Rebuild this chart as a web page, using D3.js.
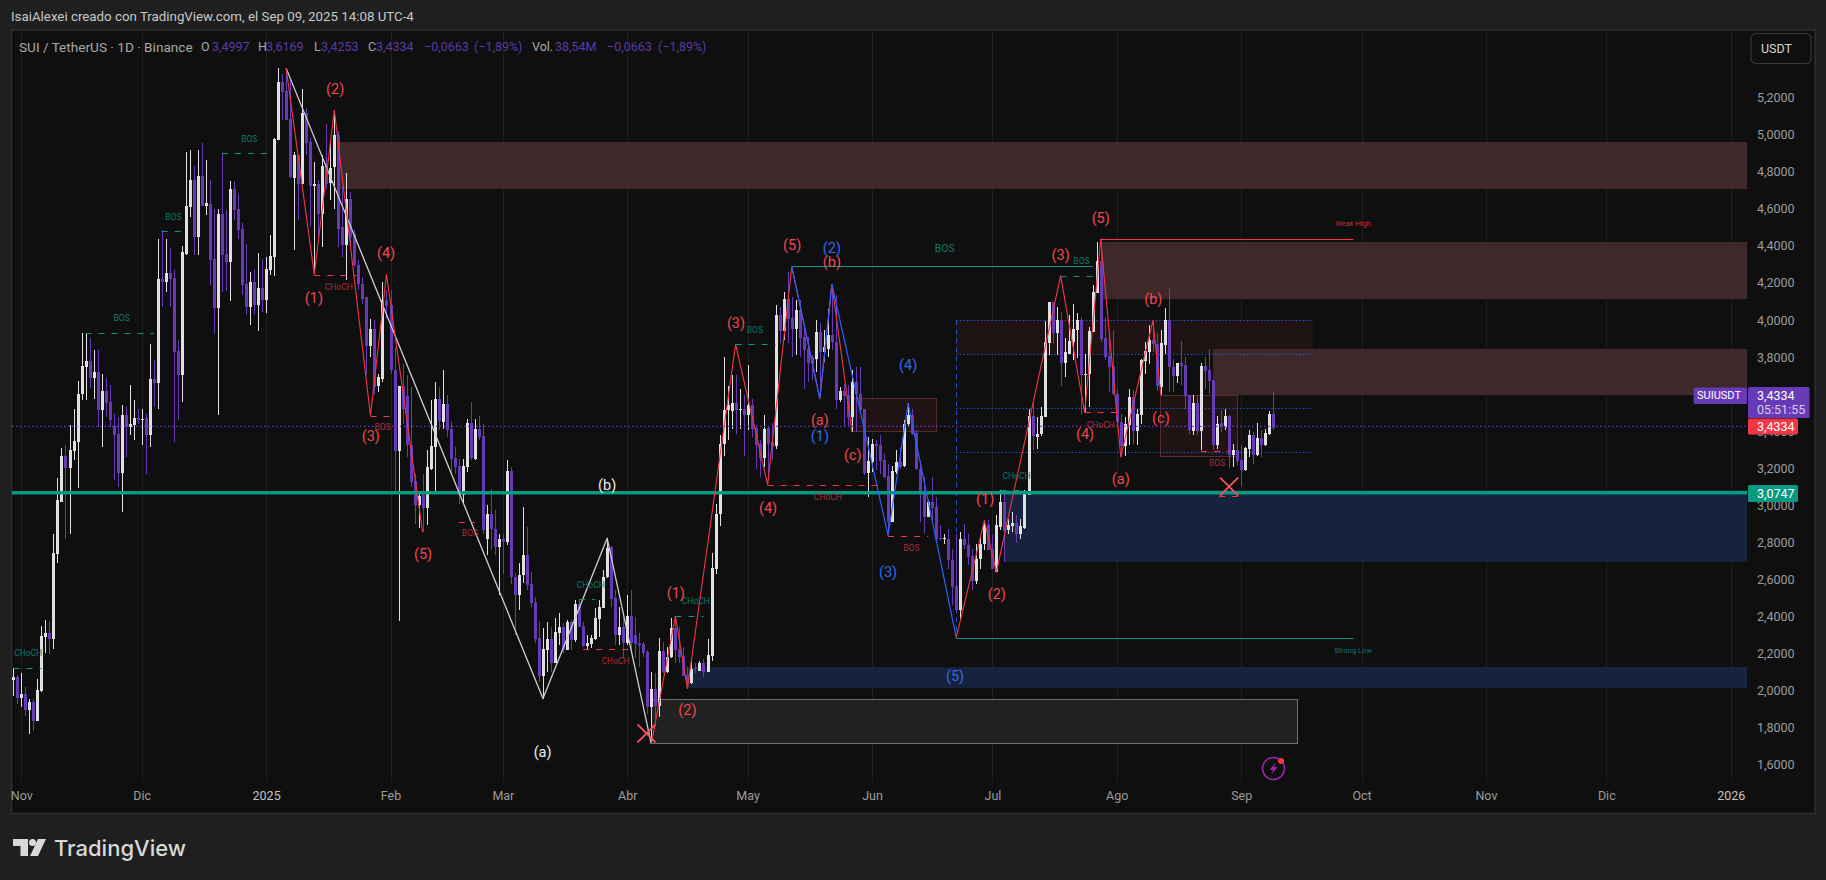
<!DOCTYPE html>
<html>
<head>
<meta charset="utf-8">
<title>SUI / TetherUS</title>
<script src="https://cdn.jsdelivr.net/npm/d3@7"></script>
<style>
	html, body { margin: 0; padding: 0; background: #1f1f1f; overflow: hidden; }
	svg { display: block; font-family: Roboto, "Open Sans", sans-serif; }
</style>
</head>
<body>
<svg id="chart" width="1826" height="880"></svg>
<script>
// daily candles, bar 0 = 30 Oct 2024
var opens = [
	2.056,2.072,1.958,1.980,1.894,1.937,1.834,1.996,2.288,2.309,
	2.277,2.736,3.019,3.265,3.200,3.291,3.340,3.597,3.743,3.776,
	3.684,3.716,3.511,3.615,3.556,3.425,3.385,3.176,3.484,3.421,
	3.430,3.471,3.462,3.470,3.376,3.682,3.659,4.220,4.204,4.253,
	4.224,3.830,3.700,4.357,4.609,4.753,4.447,4.775,4.614,4.627,
	4.328,4.064,4.569,4.353,4.312,4.704,4.595,4.488,4.191,4.069,
	4.204,4.078,4.172,4.105,4.267,4.339,4.969,5.284,5.234,5.081,
	4.767,4.888,4.735,5.113,4.960,4.722,4.735,4.569,4.829,4.739,
	4.825,4.996,4.501,4.402,4.649,4.465,4.294,4.191,4.123,3.857,
	3.952,3.641,3.682,4.109,4.078,3.727,3.291,3.641,3.587,3.322,
	3.128,3.000,3.057,2.984,3.196,3.313,3.570,3.449,3.548,3.410,
	3.257,3.210,3.053,3.206,3.444,3.251,3.413,3.372,2.819,2.951,
	2.873,2.774,2.819,2.801,3.183,2.611,2.515,2.623,2.731,2.573,
	2.476,2.281,2.080,2.218,2.278,2.150,2.312,2.341,2.218,2.371,
	2.272,2.467,2.348,2.238,2.251,2.278,2.386,2.447,2.611,2.773,
	2.497,2.299,2.341,2.254,2.400,2.299,2.254,2.249,2.207,1.912,
	2.011,1.918,2.213,2.101,2.179,2.335,2.224,2.188,2.083,2.038,
	2.119,2.107,2.146,2.101,2.188,2.656,2.951,3.329,3.512,3.507,
	3.552,3.518,3.521,3.489,3.539,3.417,3.332,3.257,3.417,3.341,
	3.318,4.025,3.941,4.110,4.009,3.952,4.052,3.908,3.845,3.797,
	3.788,3.932,3.827,3.845,3.917,3.881,3.566,3.615,3.593,3.476,
	3.662,3.599,3.516,3.174,3.233,3.332,3.323,3.246,3.156,2.909,
	3.179,3.233,3.210,3.437,3.485,3.390,3.197,3.062,2.936,3.017,
	2.990,2.823,2.817,2.819,2.706,2.562,2.432,2.816,2.787,2.724,
	2.589,2.711,2.792,2.891,2.765,2.639,2.882,3.017,2.864,2.886,
	2.904,2.842,2.878,3.053,3.480,3.368,3.386,3.476,3.872,4.097,
	3.926,3.998,3.768,3.818,3.881,3.944,3.998,3.706,3.710,3.935,
	4.142,4.318,3.899,3.804,3.750,3.602,3.449,3.318,3.431,3.584,
	3.399,3.485,3.777,3.827,3.890,3.868,3.638,3.863,3.998,3.746,
	3.696,3.768,3.755,3.593,3.399,3.552,3.399,3.750,3.728,3.674,
	3.327,3.444,3.422,3.480,3.269,3.296,3.242,3.188,3.305,3.377,
	3.269,3.364,3.323,3.382,3.490];
var highs = [
	2.124,2.086,2.097,2.018,1.953,1.953,2.061,2.347,2.378,2.374,
	2.844,3.146,3.308,3.325,3.433,3.520,3.669,3.929,3.929,3.902,
	3.839,3.835,3.709,3.687,3.646,3.493,3.475,3.538,3.529,3.646,
	3.569,3.520,3.520,3.493,3.867,3.781,4.434,4.483,4.438,4.389,
	4.267,3.889,4.397,4.904,4.915,4.832,4.915,4.951,4.861,4.753,
	4.600,4.600,4.897,4.591,4.749,4.749,4.677,4.524,4.407,4.258,
	4.276,4.362,4.330,4.339,4.456,4.983,5.356,5.324,5.356,5.293,
	4.906,4.888,5.243,5.140,4.978,4.852,4.753,4.888,5.054,4.960,
	5.113,5.019,4.717,4.789,4.690,4.483,4.321,4.231,4.123,4.006,
	3.997,3.709,4.204,4.159,4.159,3.853,3.641,3.763,3.700,3.637,
	3.169,3.079,3.169,3.295,3.569,3.664,3.637,3.728,3.593,3.449,
	3.314,3.251,3.251,3.467,3.557,3.467,3.482,3.440,3.000,3.089,
	2.972,2.846,2.846,3.242,3.206,2.632,2.686,2.992,2.884,2.641,
	2.506,2.371,2.335,2.371,2.344,2.389,2.416,2.362,2.380,2.380,
	2.488,2.492,2.371,2.299,2.299,2.443,2.488,2.650,2.821,2.780,
	2.542,2.452,2.398,2.515,2.542,2.398,2.308,2.263,2.218,2.101,
	2.092,2.281,2.263,2.236,2.389,2.402,2.344,2.236,2.128,2.161,
	2.146,2.161,2.168,2.276,2.744,3.008,3.377,3.800,3.642,3.701,
	3.701,3.626,3.593,3.755,3.575,3.431,3.350,3.485,3.422,3.444,
	4.079,4.070,4.151,4.259,4.124,4.106,4.106,3.953,3.908,3.809,
	3.998,3.980,3.944,4.058,4.187,4.133,3.638,3.656,3.647,3.728,
	3.746,3.743,3.521,3.368,3.359,3.350,3.381,3.278,3.224,3.210,
	3.296,3.314,3.458,3.552,3.516,3.404,3.242,3.152,3.026,3.152,
	3.044,2.891,2.846,2.873,2.765,2.846,2.855,2.900,2.846,2.765,
	2.792,2.828,2.918,2.918,2.837,2.945,3.080,3.080,2.927,2.963,
	2.945,2.927,3.080,3.521,3.557,3.476,3.530,3.995,4.097,4.097,
	4.070,4.043,3.899,4.025,4.084,4.034,4.016,3.818,3.962,4.187,
	4.421,4.439,4.016,3.944,3.944,3.624,3.494,3.476,3.624,3.620,
	3.516,3.788,3.881,3.971,3.995,3.926,3.944,4.061,4.169,3.791,
	3.768,3.885,3.800,3.593,3.593,3.593,3.769,3.800,3.841,3.674,
	3.480,3.512,3.521,3.485,3.332,3.341,3.323,3.314,3.404,3.395,
	3.444,3.404,3.413,3.508,3.608];
var lows = [
	1.969,1.926,1.912,1.863,1.766,1.780,1.834,1.993,2.203,2.198,
	2.223,2.689,3.019,2.817,2.844,3.241,3.092,3.565,3.565,3.633,
	3.574,3.421,3.313,3.475,3.421,3.133,3.097,2.962,3.259,3.376,
	3.349,3.439,3.322,3.169,3.313,3.529,3.520,4.069,4.150,4.069,
	3.340,3.457,3.556,4.348,4.555,4.348,4.348,4.614,4.564,4.186,
	3.925,3.484,4.150,4.155,4.101,4.537,4.433,4.132,4.024,3.970,
	4.033,3.939,4.042,4.037,4.240,4.235,4.969,5.077,5.077,4.767,
	4.375,4.537,4.735,4.888,4.501,4.249,4.429,4.393,4.708,4.645,
	4.600,4.393,4.339,4.213,4.375,4.285,4.159,4.087,3.700,3.799,
	3.592,3.610,3.664,4.006,3.709,3.065,2.377,3.439,3.259,3.097,
	2.899,2.876,2.854,2.894,3.192,3.070,3.403,3.413,3.368,3.170,
	3.170,3.008,3.008,3.179,3.242,3.242,3.350,2.846,2.729,2.756,
	2.729,2.513,2.630,2.783,2.576,2.299,2.434,2.578,2.542,2.452,
	2.254,2.047,1.957,2.101,2.101,2.146,2.245,2.200,2.218,2.218,
	2.263,2.341,2.236,2.222,2.227,2.272,2.290,2.443,2.605,2.452,
	2.245,2.245,2.173,2.245,2.200,2.173,2.128,2.182,1.876,1.711,
	1.831,1.858,2.092,2.092,2.173,2.146,2.146,2.078,2.011,2.035,
	2.092,2.105,2.074,2.101,2.161,2.630,2.886,3.264,3.350,3.413,
	3.383,3.410,3.264,3.404,3.368,3.197,3.152,3.206,3.134,3.242,
	3.305,3.872,3.890,3.872,3.800,3.809,3.800,3.629,3.665,3.674,
	3.719,3.584,3.773,3.800,3.836,3.521,3.557,3.422,3.422,3.395,
	3.395,3.494,3.161,3.044,3.179,3.188,3.170,3.149,2.837,2.909,
	3.170,3.197,3.206,3.422,3.377,3.188,2.909,2.846,2.936,2.918,
	2.801,2.814,2.792,2.657,2.459,2.428,2.382,2.765,2.675,2.540,
	2.576,2.657,2.760,2.760,2.657,2.639,2.864,2.693,2.846,2.855,
	2.796,2.819,2.873,3.053,3.296,3.305,3.372,3.476,3.809,3.872,
	3.809,3.644,3.692,3.818,3.782,3.796,3.494,3.503,3.530,3.935,
	4.142,3.881,3.782,3.611,3.593,3.440,3.260,3.264,3.323,3.332,
	3.323,3.440,3.710,3.764,3.827,3.617,3.593,3.818,3.611,3.611,
	3.660,3.647,3.516,3.386,3.377,3.377,3.296,3.629,3.597,3.300,
	3.305,3.395,3.404,3.202,3.206,3.215,3.102,3.184,3.260,3.224,
	3.264,3.260,3.318,3.377,3.404];
var closes = [
	2.072,1.960,1.980,1.894,1.937,1.834,2.002,2.293,2.309,2.277,
	2.740,3.028,3.265,3.200,3.298,3.344,3.601,3.749,3.776,3.684,
	3.716,3.511,3.615,3.551,3.462,3.381,3.176,3.484,3.421,3.439,
	3.471,3.462,3.466,3.376,3.682,3.659,4.220,4.204,4.253,4.220,
	3.826,3.700,4.364,4.613,4.753,4.447,4.775,4.614,4.629,4.325,
	4.064,4.569,4.348,4.312,4.704,4.591,4.483,4.186,4.069,4.204,
	4.078,4.172,4.105,4.274,4.343,4.976,5.284,5.230,5.077,4.771,
	4.888,4.735,5.113,4.955,4.722,4.735,4.569,4.829,4.735,4.816,
	4.996,4.492,4.402,4.649,4.447,4.294,4.191,4.114,3.858,3.952,
	3.637,3.691,4.109,4.073,3.727,3.291,3.641,3.520,3.322,3.124,
	3.000,3.052,2.984,3.205,3.317,3.574,3.453,3.548,3.404,3.251,
	3.206,3.053,3.210,3.444,3.255,3.413,3.368,2.864,2.951,2.873,
	2.774,2.819,2.801,3.183,2.612,2.515,2.623,2.731,2.569,2.470,
	2.278,2.080,2.224,2.278,2.146,2.314,2.341,2.218,2.371,2.272,
	2.467,2.344,2.242,2.256,2.285,2.389,2.450,2.611,2.767,2.492,
	2.299,2.341,2.254,2.400,2.254,2.251,2.243,2.204,1.912,2.011,
	1.918,2.213,2.101,2.182,2.335,2.218,2.182,2.080,2.038,2.114,
	2.114,2.146,2.101,2.191,2.659,2.954,3.332,3.512,3.539,3.552,
	3.512,3.521,3.489,3.539,3.413,3.323,3.257,3.413,3.329,3.314,
	4.025,3.941,4.110,4.004,3.952,4.052,3.903,3.836,3.768,3.764,
	3.932,3.827,3.851,3.917,3.878,3.566,3.615,3.588,3.476,3.662,
	3.599,3.512,3.174,3.237,3.332,3.318,3.239,3.152,2.909,3.183,
	3.233,3.206,3.437,3.485,3.386,3.197,3.062,2.936,3.017,2.986,
	2.819,2.816,2.823,2.702,2.558,2.432,2.816,2.783,2.720,2.589,
	2.711,2.792,2.891,2.760,2.657,2.891,3.017,2.860,2.891,2.904,
	2.846,2.886,3.062,3.480,3.372,3.386,3.480,3.878,4.097,3.926,
	3.998,3.768,3.827,3.887,3.948,3.998,3.701,3.710,3.939,4.148,
	4.318,3.895,3.800,3.746,3.602,3.449,3.318,3.437,3.584,3.399,
	3.490,3.782,3.831,3.890,3.867,3.642,3.872,3.998,3.746,3.696,
	3.768,3.752,3.589,3.408,3.552,3.399,3.750,3.723,3.669,3.323,
	3.440,3.422,3.480,3.269,3.296,3.238,3.188,3.310,3.377,3.269,
	3.364,3.323,3.390,3.490,3.418];

// axes
var priceTicks = [1.6,1.8,2.0,2.2,2.4,2.6,2.8,3.0,3.2,3.4,3.6,3.8,4.0,4.2,4.4,4.6,4.8,5.0,5.2];
var monthBars = [2,32,63,94,122,153,183,214,244,275,306,336,367,397,428];
var monthLabels = ["Nov","Dic","2025","Feb","Mar","Abr","May","Jun","Jul","Ago","Sep","Oct","Nov","Dic","2026"];

// price levels
var lastClose = 3.4334;
var supportLevel = 3.0747;

// zigzag waves as [bar, price]
var waveWhite = [[68,5.356],[132,1.957],[148,2.821],[159,1.711]];
var waveRedA = [[68,5.356],[75,4.245],[80,5.131],[89,3.484],[93,4.244],[102,2.854]];
var waveRedB = [[159,1.711],[165,2.402],[168,2.011],[180,3.867],[188,3.111],[194,4.286]];
var waveRedC = [[194,4.286],[201,3.575],[204,4.191],[209,3.395]];
var waveBlue = [[194,4.286],[201,3.575],[204,4.191],[218,2.837],[223,3.548],[235,2.285]];
var waveRedD = [[235,2.285],[242,2.918],[245,2.639],[261,4.237],[267,3.500],[271,4.434],[276,3.260],[284,3.995],[286,3.593]];

// wave counts as [text, bar, price]
var countsRed = [
	["(2)",80.2,5.243],["(1)",74.9,4.116],["(4)",92.9,4.355],["(3)",89.1,3.369],["(5)",102.1,2.735],
	["(5)",194.1,4.402],["(b)",204,4.308],["(3)",180.1,3.981],["(a)",201,3.456],["(c)",209.2,3.267],["(4)",188.1,2.983],
	["(1)",165.1,2.525],["(2)",168,1.890],
	["(5)",271,4.547],["(3)",261,4.349],["(b)",284.1,4.107],["(c)",286,3.465],["(4)",267.1,3.382],["(a)",276,3.136],
	["(1)",242.2,3.032],["(2)",245.1,2.516]];
var countsBlue = [["(2)",204,4.387],["(1)",201,3.369],["(3)",218,2.636],["(4)",223,3.752],["(5)",234.7,2.075]];
var countsWhite = [["(b)",148,3.105],["(a)",131.9,1.667]];

// market structure as [startBar, endBar, price, label, labelBar, labelPrice]
var structureTeal = [
	[0,7,2.124,"CHoCH",3.7,2.203],[18,35,3.929,"BOS",27,4.010],[37,42,4.479,"BOS",39.9,4.554],
	[52,65,4.897,"BOS",58.8,4.975],[141,145,2.492,"CHoCH",143.9,2.569],[165,172,2.404,"CHoCH",170.1,2.483],
	[180,190,3.867,"BOS",184.8,3.945],[261,269,4.237,"BOS",266.2,4.317],[246,252,3.080,"CHoCH",250,3.157]];
var structureRed = [
	[75,85.5,4.243,"CHoCH",81.1,4.177],[89,94,3.482,"BOS",92,3.423],[111,115,2.911,"BOS",113.8,2.850],
	[142,155,2.222,"CHoCH",150.1,2.159],[188,217,3.111,"CHoCH",203,3.044],[218,228,2.835,"BOS",223.8,2.769],
	[267,275,3.500,"CHoCH",271,3.432],[296,303,3.294,"BOS",300,3.227],[300.5,306,3.052,"",0,0]];
var strongLines = [
	[194,269,4.288,"BOS",232.1,4.387,"#089981",10.5],
	[271,334,4.434,"Weak High",333.9,4.519,"#f23645",7.5],
	[235,334,2.285,"Strong Low",333.9,2.217,"#089981",7.5]];

// zones as [startBar, endBar, topPrice, bottomPrice]
var zonesSupply = [[81,432,4.960,4.705],[271,432,4.419,4.111],[299,432,3.842,3.594]];
var zonesDemand = [[247,432,3.080,2.693],[168,432,2.126,2.015]];
var zonesFaint = [[235,324,3.997,3.814]];
var boxesRed = [[209,230,3.577,3.397],[286,305,3.594,3.260]];
var boxesGray = [[159,320,1.952,1.715]];

// fib lines from the low of June
var fibBars = [235,324];
var fibLevels = [3.997,3.814,3.522,3.285];
var fibFoot = 2.285;

var crossMarks = [[157.8,1.769],[303,3.100]];

var legendParts = [
	["SUI / TetherUS · 1D · Binance",19,"g",13.6],["O",201,"g"],["3,4997",212,"p"],["H",258,"g"],["3,6169",266,"p"],
	["L",314,"g"],["3,4253",321,"p"],["C",368,"g"],["3,4334",376,"p"],["−0,0663",424,"p"],["(−1,89%)",474,"p"],
	["Vol.",532,"g"],["38,54M",555,"p"],["−0,0663",607,"p"],["(−1,89%)",658,"p"]];

var colors = {
	bg: "#1f1f1f", pane: "#0f0f0f", frame: "#2e2e2e", grid: "#1f1f1f",
	up: "#e0e0e0", down: "#673ab7", teal: "#089981", red: "#f23645", blue: "#2962ff",
	wave: "#cfcfcf", supply: "#3f2829", demand: "#17233d", faint: "#1f1413", axis: "#9c9c9c"
};

var svg = d3.select("#chart");

var x = d3.scaleLinear().domain([0,428]).range([13.33,1730.7]);
var y = d3.scaleLinear().domain([5.2,1.6]).range([97.3,764.7]);

function snap(v) { return Math.round(v) + 0.5; }

svg.append("rect").attr("width",1826).attr("height",880).attr("fill",colors.bg);
svg.append("rect").attr("x",11.5).attr("y",30).attr("width",1803.5).attr("height",783.5)
	.attr("fill",colors.pane).attr("stroke",colors.frame).attr("stroke-width",1.5);

// month grid
svg.append("g").selectAll("line").data(monthBars).enter().append("line")
	.attr("x1",function(d){ return snap(x(d)); }).attr("x2",function(d){ return snap(x(d)); })
	.attr("y1",31).attr("y2",782)
	.attr("stroke",colors.grid);

// zones
function drawZones(rows, fill, stroke) {
	svg.append("g").selectAll("rect").data(rows).enter().append("rect")
		.attr("x",function(d){ return x(d[0]); })
		.attr("width",function(d){ return x(d[1]) - x(d[0]); })
		.attr("y",function(d){ return y(d[2]); })
		.attr("height",function(d){ return y(d[3]) - y(d[2]); })
		.attr("fill",fill)
		.attr("stroke",stroke || "none")
		.attr("shape-rendering","crispEdges");
}
drawZones(zonesFaint, colors.faint);
drawZones(zonesSupply, colors.supply);
drawZones(zonesDemand, colors.demand);
drawZones(boxesRed, colors.faint, "#5a2a2c");
drawZones(boxesGray, "#212121", "#6f6f6f");

// fib lines
svg.append("g").selectAll("line").data(fibLevels).enter().append("line")
	.attr("x1",x(fibBars[0])).attr("x2",x(fibBars[1]))
	.attr("y1",function(d){ return snap(y(d)); }).attr("y2",function(d){ return snap(y(d)); })
	.attr("stroke",colors.blue).attr("stroke-opacity",0.8).attr("stroke-dasharray","1.5,2");
svg.append("line")
	.attr("x1",snap(x(fibBars[0]))).attr("x2",snap(x(fibBars[0])))
	.attr("y1",y(fibLevels[0])).attr("y2",y(fibFoot))
	.attr("stroke",colors.blue).attr("stroke-opacity",0.8).attr("stroke-dasharray","5,4");

// candles
var bars = d3.range(closes.length);
var candle = svg.append("g").attr("shape-rendering","crispEdges");
candle.selectAll(".wick").data(bars).enter().append("line")
	.attr("class","wick")
	.attr("x1",function(i){ return snap(x(i)); }).attr("x2",function(i){ return snap(x(i)); })
	.attr("y1",function(i){ return y(highs[i]); }).attr("y2",function(i){ return y(lows[i]); })
	.attr("stroke",function(i){ return closes[i] >= opens[i] ? colors.up : colors.down; });
candle.selectAll(".body").data(bars).enter().append("rect")
	.attr("class","body")
	.attr("x",function(i){ return snap(x(i)) - 1.5; })
	.attr("width",3)
	.attr("y",function(i){ return y(Math.max(opens[i],closes[i])); })
	.attr("height",function(i){ return Math.max(1, Math.abs(y(opens[i]) - y(closes[i]))); })
	.attr("fill",function(i){ return closes[i] >= opens[i] ? colors.up : colors.down; });

// current price, dotted, and the support line; both sit 1.5px under the axis text
var levelNudge = 1.5;
svg.append("line").attr("x1",12).attr("x2",1747)
	.attr("y1",y(lastClose)+levelNudge).attr("y2",y(lastClose)+levelNudge)
	.attr("stroke",colors.down).attr("stroke-width",1.2).attr("stroke-dasharray","1.5,2.5");
svg.append("line").attr("x1",12).attr("x2",1747)
	.attr("y1",y(supportLevel)+levelNudge).attr("y2",y(supportLevel)+levelNudge)
	.attr("stroke",colors.teal).attr("stroke-width",3.4);

// zigzags
var zig = d3.line().x(function(d){ return x(d[0]); }).y(function(d){ return y(d[1]); });
function drawWave(points, stroke, w) {
	svg.append("path").attr("d",zig(points)).attr("fill","none")
		.attr("stroke",stroke).attr("stroke-width",w).attr("stroke-linejoin","round");
}
drawWave(waveWhite, colors.wave, 1.3);
drawWave(waveRedA, colors.red, 1.1);
drawWave(waveRedB, colors.red, 1.1);
drawWave(waveRedC, colors.red, 1.1);
drawWave(waveBlue, colors.blue, 1.2);
drawWave(waveRedD, colors.red, 1.1);

// structure
function drawStructure(rows, stroke, labelFill) {
	var g = svg.append("g");
	g.selectAll("line").data(rows).enter().append("line")
		.attr("x1",function(d){ return x(d[0]); }).attr("x2",function(d){ return x(d[1]); })
		.attr("y1",function(d){ return snap(y(d[2])); }).attr("y2",function(d){ return snap(y(d[2])); })
		.attr("stroke",stroke).attr("stroke-dasharray","6,7");
	g.selectAll("text").data(rows).enter().append("text")
		.text(function(d){ return d[3]; })
		.attr("x",function(d){ return x(d[4]); }).attr("y",function(d){ return y(d[5]); })
		.attr("text-anchor","middle").attr("dominant-baseline","central")
		.attr("font-size",8.5).attr("fill",labelFill);
}
drawStructure(structureTeal, colors.teal, "#0b7a68");
drawStructure(structureRed, colors.red, "#a92c3a");

var strong = svg.append("g");
strong.selectAll("line").data(strongLines).enter().append("line")
	.attr("x1",function(d){ return x(d[0]); }).attr("x2",function(d){ return x(d[1]); })
	.attr("y1",function(d){ return snap(y(d[2])); }).attr("y2",function(d){ return snap(y(d[2])); })
	.attr("stroke",function(d){ return d[6]; });
strong.selectAll("text").data(strongLines).enter().append("text")
	.text(function(d){ return d[3]; })
	.attr("x",function(d){ return x(d[4]); }).attr("y",function(d){ return y(d[5]); })
	.attr("text-anchor","middle").attr("dominant-baseline","central")
	.attr("font-size",function(d){ return d[7]; })
	.attr("fill",function(d){ return d[6]; }).attr("fill-opacity",0.8);

// wave counts
function drawCounts(rows, fill) {
	svg.append("g").selectAll("text").data(rows).enter().append("text")
		.text(function(d){ return d[0]; })
		.attr("x",function(d){ return x(d[1]); }).attr("y",function(d){ return y(d[2]); })
		.attr("text-anchor","middle").attr("dominant-baseline","central")
		.attr("font-size",14.5).attr("fill",fill);
}
drawCounts(countsRed, "#f0484f");
drawCounts(countsBlue, "#2f6bf0");
drawCounts(countsWhite, "#eeeeee");

// crosses
var crossSize = 9;
svg.append("g").selectAll("path").data(crossMarks).enter().append("path")
	.attr("d",function(d){
		var cx = x(d[0]), cy = y(d[1]);
		return "M"+(cx-crossSize)+","+(cy-crossSize)+"L"+(cx+crossSize)+","+(cy+crossSize)+
			"M"+(cx-crossSize)+","+(cy+crossSize)+"L"+(cx+crossSize)+","+(cy-crossSize);
	})
	.attr("stroke","#f7525f").attr("stroke-width",1.8).attr("fill","none");

// alert icon
var icon = svg.append("g").attr("transform","translate(1273.5,768.5)");
icon.append("circle").attr("r",11).attr("fill","none").attr("stroke","#9c27b0").attr("stroke-width",1.5);
icon.append("path").attr("d","M2,-6L-4,1.5L-0.5,1.5L-2,6L4,-1.5L0.5,-1.5Z").attr("fill","#9c27b0");
icon.append("circle").attr("cx",7.5).attr("cy",-7.5).attr("r",3).attr("fill","#f23645");

// price axis
var priceFormat = function(d){ return d3.format(".4f")(d).replace(".",","); };
var yAxis = svg.append("g").attr("transform","translate(1757,0)")
	.call(d3.axisRight(y).tickValues(priceTicks).tickSize(0).tickPadding(0).tickFormat(priceFormat));
yAxis.select(".domain").remove();
yAxis.selectAll("text").attr("font-family","Roboto").attr("font-size",12.5).attr("fill",colors.axis).attr("dy","0.34em");

// time axis
var xAxis = svg.append("g").attr("transform","translate(0,791)")
	.call(d3.axisBottom(x).tickValues(monthBars).tickSize(0).tickPadding(0)
		.tickFormat(function(d,i){ return monthLabels[i]; }));
xAxis.select(".domain").remove();
xAxis.selectAll("text").attr("font-family","Roboto").attr("font-size",12.5).attr("dy","0.71em")
	.attr("fill",function(d,i){ return /^20/.test(monthLabels[i]) ? "#c4c4c4" : colors.axis; });

// price tags
function tag(px, py, w, h, fill, lines, size) {
	svg.append("rect").attr("x",px).attr("y",py).attr("width",w).attr("height",h).attr("rx",1.5).attr("fill",fill);
	lines.forEach(function(l){
		svg.append("text").text(l[0]).attr("x",px+l[1]).attr("y",py+l[2])
			.attr("dominant-baseline","central").attr("font-size",size || 12.5).attr("fill",l[3] || "#ffffff");
	});
}
tag(1693.5,387.5,53.5,16.5,colors.down,[["SUIUSDT",3.5,8]],11);
tag(1748,387,61.5,31,colors.down,[["3,4334",9,8],["05:51:55",9,22.5,"#d8cdee"]]);
tag(1748,418.5,50,16,colors.red,[["3,4334",9,8]]);
tag(1748,485,50,17,colors.teal,[["3,0747",9,8.5]]);

svg.append("rect").attr("x",1751).attr("y",33.5).attr("width",60).attr("height",30).attr("rx",5)
	.attr("fill",colors.pane).attr("stroke","#363636").attr("stroke-width",1.2);
svg.append("text").text("USDT").attr("x",1761).attr("y",48.5).attr("dominant-baseline","central")
	.attr("font-size",12.5).attr("fill","#d6d6d6");

// legend and header
svg.append("g").selectAll("text").data(legendParts).enter().append("text")
	.text(function(d){ return d[0]; })
	.attr("x",function(d){ return d[1]; }).attr("y",46.5)
	.attr("dominant-baseline","central").attr("font-size",function(d){ return d[3] || 12.5; })
	.attr("fill",function(d){ return d[2] === "g" ? "#a8a8a8" : "#5b3aa8"; });

svg.append("text").text("IsaiAlexei creado con TradingView.com, el Sep 09, 2025 14:08 UTC-4")
	.attr("x",11).attr("y",16.5).attr("dominant-baseline","central")
	.attr("font-size",13.3).attr("fill","#c8c8c8");

// logo
var logo = svg.append("g").attr("transform","translate(13,839)").attr("fill","#d9d9d9");
logo.append("path").attr("d","M0,0H15V17H7.5V7H0Z");
logo.append("circle").attr("cx",19.5).attr("cy",3.5).attr("r",3.5);
logo.append("path").attr("d","M25,0H33L25,17H17Z");
svg.append("text").text("TradingView").attr("x",54).attr("y",848)
	.attr("dominant-baseline","central").attr("font-family","Inter")
	.attr("font-size",22).attr("font-weight",500).attr("fill","#d9d9d9");
</script>
</body>
</html>
